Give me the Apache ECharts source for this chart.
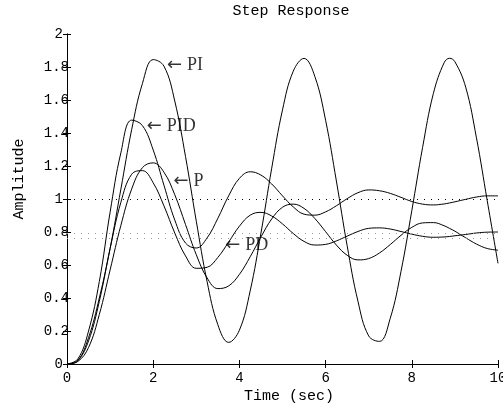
<!DOCTYPE html>
<html>
<head>
<meta charset="utf-8">
<script src="https://cdn.jsdelivr.net/npm/echarts@6/dist/echarts.min.js"></script>
<style>
html,body{margin:0;padding:0;background:#fff;}
#chart{width:503px;height:406px;}
</style>
</head>
<body>
<div id="chart"></div>
<script>
// Time samples (sec)
const time = [0,0.25,0.5,0.75,1,1.25,1.5,1.75,2,2.25,2.5,2.75,3,3.25,3.5,3.75,4,4.25,4.5,4.75,5,5.25,5.5,5.75,6,6.25,6.5,6.75,7,7.25,7.5,7.75,8,8.25,8.5,8.75,8.875,9,9.25,9.5,9.75,10];
// Step responses
const respPI  = [0,0.02,0.16,0.40,0.70,1.06,1.42,1.70,1.845,1.805,1.594,1.257,0.865,0.500,0.238,0.131,0.205,0.443,0.793,1.187,1.540,1.775,1.852,1.743,1.477,1.109,0.717,0.381,0.170,0.137,0.277,0.562,0.929,1.312,1.639,1.826,1.853,1.832,1.678,1.371,0.990,0.610];
const respPID = [0,0.03,0.20,0.50,0.92,1.28,1.478,1.445,1.297,1.083,0.873,0.733,0.703,0.764,0.883,1.019,1.125,1.165,1.145,1.091,1.019,0.952,0.908,0.902,0.922,0.959,1.002,1.038,1.055,1.05,1.034,1.01,0.985,0.969,0.964,0.970,0.976,0.983,0.998,1.012,1.019,1.019];
const respPD  = [0,0.02,0.14,0.38,0.70,0.98,1.15,1.172,1.098,0.958,0.794,0.655,0.580,0.586,0.646,0.739,0.835,0.902,0.919,0.897,0.849,0.791,0.743,0.721,0.725,0.746,0.775,0.803,0.822,0.825,0.818,0.803,0.787,0.774,0.768,0.770,0.773,0.777,0.785,0.794,0.799,0.800];
const respP   = [0,0.015,0.10,0.30,0.57,0.84,1.06,1.19,1.219,1.162,1.026,0.845,0.662,0.522,0.457,0.473,0.543,0.650,0.770,0.879,0.950,0.969,0.943,0.882,0.802,0.721,0.659,0.631,0.639,0.673,0.724,0.780,0.828,0.855,0.857,0.838,0.822,0.805,0.765,0.727,0.700,0.690];
// Steady-state dotted levels
const ssUnity = [1];
const ssLower = [0.79, 0.762];
// Annotations
const annotText = ['PI', 'PID', 'P', 'PD'];
const annotT = [2.32, 1.85, 2.47, 3.67];
const annotY = [1.812, 1.438, 1.105, 0.717];
// Axis ticks
const xTicks = {min: 0, max: 10, interval: 2};
const yTicks = {min: 0, max: 2, interval: 0.2};

const mono = "'Liberation Mono','Courier New',monospace";
const serif = "'Liberation Serif','Times New Roman',serif";

function pairs(ys){ return time.map((t,i)=>[t, ys[i]]); }
function curve(name, ys){
  return {
    name, type:'line', data: pairs(ys), showSymbol:false, smooth:0.4,
    lineStyle:{color:'#000', width:1}, silent:true, z:3
  };
}

const chart = echarts.init(document.getElementById('chart'), null, {renderer:'canvas'});
const tickStyle = {inside:true, length:4, lineStyle:{color:'#000', width:1}};
const lineSty = {show:true, lineStyle:{color:'#000', width:1}};

const piSeries = curve('PI', respPI);
piSeries.markLine = {
  silent:true, symbol:['none','none'], label:{show:false},
  data: ssUnity.map(v=>({yAxis:v, lineStyle:{color:'#000', width:1, type:[1,6]}}))
     .concat(ssLower.map(v=>({yAxis:v, lineStyle:{color:'#999', width:1, type:[1,6]}})))
};

chart.setOption({
  animation:false,
  backgroundColor:'#fff',
  grid:{left:67, right:5, top:34, bottom:42, containLabel:false, outerBoundsMode:'none'},
  xAxis:[
    {type:'value', position:'bottom', min:xTicks.min, max:xTicks.max, interval:xTicks.interval,
     axisLine:lineSty, axisTick:tickStyle, splitLine:{show:false},
     axisLabel:{color:'#000', fontFamily:mono, fontSize:14, margin:7, alignMinLabel:'center', alignMaxLabel:'center'}},
    {type:'value', position:'top', min:xTicks.min, max:xTicks.max, interval:xTicks.interval,
     axisLine:lineSty, axisTick:tickStyle, splitLine:{show:false}, axisLabel:{show:false}}
  ],
  yAxis:[
    {type:'value', position:'left', min:yTicks.min, max:yTicks.max, interval:yTicks.interval,
     axisLine:lineSty, axisTick:tickStyle, splitLine:{show:false},
     axisLabel:{color:'#000', fontFamily:mono, fontSize:14, margin:-2,
       formatter:function(v){ const s = String(Math.round(v*10)/10); return s.length===1 ? '{a|'+s+'}' : '{b|'+s+'}'; },
       rich:{a:{fontFamily:mono, fontSize:14, color:'#000', padding:[0,6,0,0]}, b:{fontFamily:mono, fontSize:14, color:'#000'}}}},
    {type:'value', position:'right', min:yTicks.min, max:yTicks.max, interval:yTicks.interval,
     axisLine:lineSty, axisTick:tickStyle, splitLine:{show:false}, axisLabel:{show:false}}
  ],
  series:[
    piSeries,
    curve('PID', respPID),
    curve('PD', respPD),
    curve('P', respP),
    {
      type:'scatter', silent:true, symbolSize:0, z:5,
      data: annotT.map((t,i)=>({value:[t, annotY[i]], label:{formatter:'{a|\u2190}{b|'+annotText[i]+'}'}})),
      label:{show:true, position:'right', distance:0, color:'#000',
        rich:{a:{fontFamily:"'DejaVu Sans',sans-serif", fontSize:18, color:'#000', padding:[0,5,0,0]},
              b:{fontFamily:serif, fontSize:18, color:'#000'}}}
    }
  ],
  graphic:[
    {type:'text', x:291, y:11, silent:true,
     style:{text:'Step Response', fill:'#000', font:"15px 'Liberation Mono','Courier New',monospace", textAlign:'center', textVerticalAlign:'middle'}},
    {type:'text', x:289, y:396, silent:true,
     style:{text:'Time (sec)', fill:'#000', font:"15px 'Liberation Mono','Courier New',monospace", textAlign:'center', textVerticalAlign:'middle'}},
    {type:'text', x:19, y:179, rotation:Math.PI/2, silent:true,
     style:{text:'Amplitude', fill:'#000', font:"15px 'Liberation Mono','Courier New',monospace", textAlign:'center', textVerticalAlign:'middle'}}
  ]
});
</script>
</body>
</html>
